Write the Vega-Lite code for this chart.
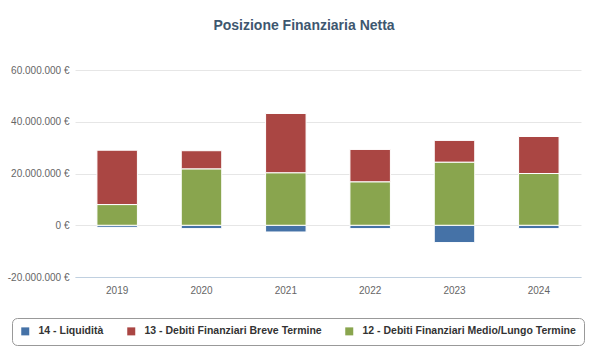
{
  "$schema": "https://vega.github.io/schema/vega-lite/v6.json",
  "autosize": {"type": "none"},
  "width": 506,
  "height": 207,
  "padding": {"left": 75, "top": 70, "right": 17, "bottom": 78},
  "background": "white",
  "config": {
    "locale": {"number": {"decimal": ",", "thousands": ".", "grouping": [3], "currency": ["", " €"], "minus": "-"}},
    "view": {"stroke": null},
    "font": "Liberation Sans"
  },
  "title": {
    "text": "Posizione Finanziaria Netta",
    "font": "Liberation Sans",
    "fontSize": 14,
    "fontWeight": "bold",
    "color": "#3E576F",
    "anchor": "middle",
    "frame": "group",
    "dx": -24,
    "offset": 32
  },
  "data": {
    "values": [
      {"anno": "2019", "serie": "14 - Liquidità", "valore": -800000, "ord": 0},
      {"anno": "2019", "serie": "12 - Debiti Finanziari Medio/Lungo Termine", "valore": 8000000, "ord": 1},
      {"anno": "2019", "serie": "13 - Debiti Finanziari Breve Termine", "valore": 21000000, "ord": 2},
      {"anno": "2020", "serie": "14 - Liquidità", "valore": -1300000, "ord": 0},
      {"anno": "2020", "serie": "12 - Debiti Finanziari Medio/Lungo Termine", "valore": 21800000, "ord": 1},
      {"anno": "2020", "serie": "13 - Debiti Finanziari Breve Termine", "valore": 7000000, "ord": 2},
      {"anno": "2021", "serie": "14 - Liquidità", "valore": -2600000, "ord": 0},
      {"anno": "2021", "serie": "12 - Debiti Finanziari Medio/Lungo Termine", "valore": 20300000, "ord": 1},
      {"anno": "2021", "serie": "13 - Debiti Finanziari Breve Termine", "valore": 22900000, "ord": 2},
      {"anno": "2022", "serie": "14 - Liquidità", "valore": -1300000, "ord": 0},
      {"anno": "2022", "serie": "12 - Debiti Finanziari Medio/Lungo Termine", "valore": 16800000, "ord": 1},
      {"anno": "2022", "serie": "13 - Debiti Finanziari Breve Termine", "valore": 12500000, "ord": 2},
      {"anno": "2023", "serie": "14 - Liquidità", "valore": -6700000, "ord": 0},
      {"anno": "2023", "serie": "12 - Debiti Finanziari Medio/Lungo Termine", "valore": 24400000, "ord": 1},
      {"anno": "2023", "serie": "13 - Debiti Finanziari Breve Termine", "valore": 8400000, "ord": 2},
      {"anno": "2024", "serie": "14 - Liquidità", "valore": -1300000, "ord": 0},
      {"anno": "2024", "serie": "12 - Debiti Finanziari Medio/Lungo Termine", "valore": 20000000, "ord": 1},
      {"anno": "2024", "serie": "13 - Debiti Finanziari Breve Termine", "valore": 14300000, "ord": 2}
    ]
  },
  "mark": {"type": "bar", "stroke": "white", "strokeWidth": 1},
  "encoding": {
    "x": {
      "field": "anno",
      "type": "ordinal",
      "scale": {"paddingInner": 0.52, "paddingOuter": 0.26},
      "axis": {
        "title": null,
        "labelAngle": 0,
        "ticks": false,
        "domain": true,
        "domainColor": "#C0D0E0",
        "domainWidth": 1,
        "labelColor": "#666666",
        "labelFontSize": 10,
        "labelPadding": 8
      }
    },
    "y": {
      "field": "valore",
      "type": "quantitative",
      "stack": "zero",
      "scale": {"domain": [-20000000, 60000000], "nice": false},
      "axis": {
        "title": null,
        "values": [-20000000, 0, 20000000, 40000000, 60000000],
        "format": ",.0f",
        "labelExpr": "datum.label + ' €'",
        "ticks": false,
        "domain": false,
        "gridColor": "#e6e6e6",
        "labelColor": "#666666",
        "labelFontSize": 10,
        "labelPadding": 6
      }
    },
    "order": {"field": "ord", "type": "quantitative"},
    "color": {
      "field": "serie",
      "type": "nominal",
      "scale": {
        "domain": ["14 - Liquidità", "13 - Debiti Finanziari Breve Termine", "12 - Debiti Finanziari Medio/Lungo Termine"],
        "range": ["#4572A7", "#AA4643", "#89A54E"]
      },
      "legend": {
        "title": null,
        "orient": "none",
        "legendX": -63,
        "legendY": 248,
        "direction": "horizontal",
        "symbolType": "square",
        "symbolSize": 64,
        "symbolStrokeWidth": 0,
        "labelFont": "Liberation Sans",
        "labelFontSize": 10.5,
        "labelFontWeight": "bold",
        "labelColor": "#333333",
        "labelLimit": 400,
        "labelOffset": 8,
        "columnPadding": 22,
        "strokeColor": "#999999",
        "cornerRadius": 5,
        "padding": 8,
        "fillColor": "white"
      }
    }
  }
}
